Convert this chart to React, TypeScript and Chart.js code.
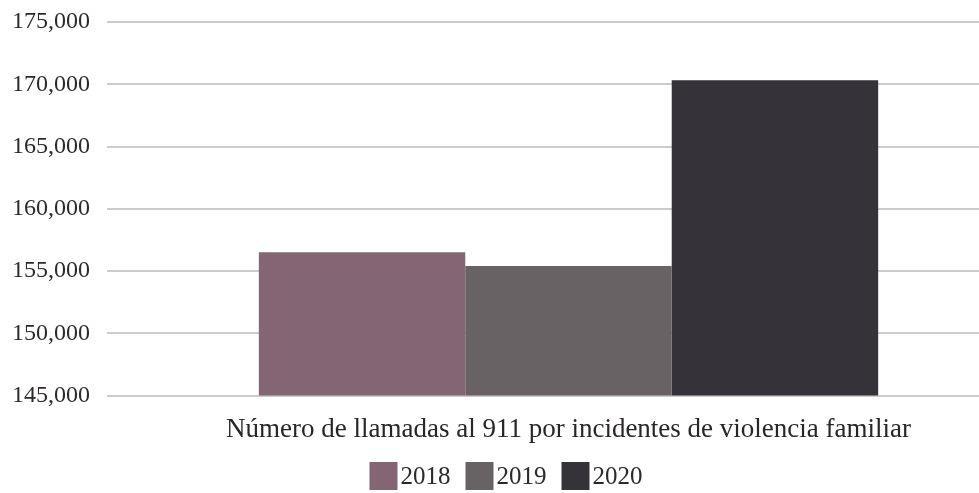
import React, { useEffect, useRef } from "react";
import { Chart, registerables } from "chart.js";

Chart.register(...registerables);

const categories = ["Número de llamadas al 911 por incidentes de violencia familiar"];
const seriesLabels = ["2018", "2019", "2020"];
const values2018 = [156520];
const values2019 = [155400];
const values2020 = [170330];
const seriesColors = ["#846573", "#686264", "#353239"];
const yTicks = [145000, 150000, 155000, 160000, 165000, 170000, 175000];

const FONT = "'Liberation Serif', 'DejaVu Serif', serif";

const customLegend = {
  id: "customLegend",
  afterDraw(chart: any) {
    const ctx = chart.ctx;
    const box = 28;
    const gap = 3;
    const itemGap = 15;
    ctx.save();
    ctx.font = `25px ${FONT}`;
    const items = chart.data.datasets.map((d: any) => ({
      label: d.label,
      color: d.backgroundColor,
      w: ctx.measureText(d.label).width,
    }));
    const total = items.reduce((s: number, it: any) => s + box + gap + it.w, 0) + itemGap * (items.length - 1);
    let x = chart.width / 2 - 9 - total / 2;
    const top = 462;
    ctx.textBaseline = "middle";
    ctx.textAlign = "left";
    for (const it of items) {
      ctx.fillStyle = it.color;
      ctx.fillRect(x, top, box, box);
      ctx.fillStyle = "#2e2a2b";
      ctx.fillText(it.label, x + box + gap, top + box / 2 + 1);
      x += box + gap + it.w + itemGap;
    }
    ctx.restore();
  },
};

export default function App() {
  const ref = useRef<HTMLCanvasElement>(null);
  useEffect(() => {
    if (!ref.current) return;
    const chart = new Chart(ref.current, {
      type: "bar",
      data: {
        labels: categories,
        datasets: [
          { label: seriesLabels[0], data: values2018, backgroundColor: seriesColors[0] },
          { label: seriesLabels[1], data: values2019, backgroundColor: seriesColors[1] },
          { label: seriesLabels[2], data: values2020, backgroundColor: seriesColors[2] },
        ],
      },
      options: {
        animation: false,
        responsive: false,
        layout: { padding: { top: 22, left: 0, right: 0, bottom: 0 } },
        plugins: { legend: { display: false }, tooltip: { enabled: false } },
        datasets: { bar: { categoryPercentage: 0.671, barPercentage: 1.0 } },
        scales: {
          x: {
            grid: { display: false },
            border: { display: false },
            ticks: { color: "#2a2627", font: { family: FONT, size: 27 }, padding: 10, maxRotation: 0 },
            afterFit: (s: any) => { s.height = 97.4; s.paddingLeft = 0; s.paddingRight = 0; },
          },
          y: {
            min: 145000,
            max: 175000,
            afterBuildTicks: (s: any) => { s.ticks = yTicks.map((v) => ({ value: v })); },
            grid: { color: "#cccccc", lineWidth: 2, drawTicks: false },
            border: { display: false },
            ticks: {
              color: "#2e2a2b",
              font: { family: FONT, size: 24 },
              padding: 17,
              callback: (v: any) => Number(v).toLocaleString("en-US"),
            },
            afterFit: (s: any) => { s.width = 107; s.paddingTop = 0; s.paddingBottom = 0; },
          },
        },
      },
      plugins: [customLegend],
    });
    return () => chart.destroy();
  }, []);
  return (
    <div style={{ position: "fixed", left: 0, top: 0, width: 1030, height: 493, background: "#fff" }}>
      <canvas ref={ref} width={1030} height={493} style={{ display: "block" }} />
    </div>
  );
}
